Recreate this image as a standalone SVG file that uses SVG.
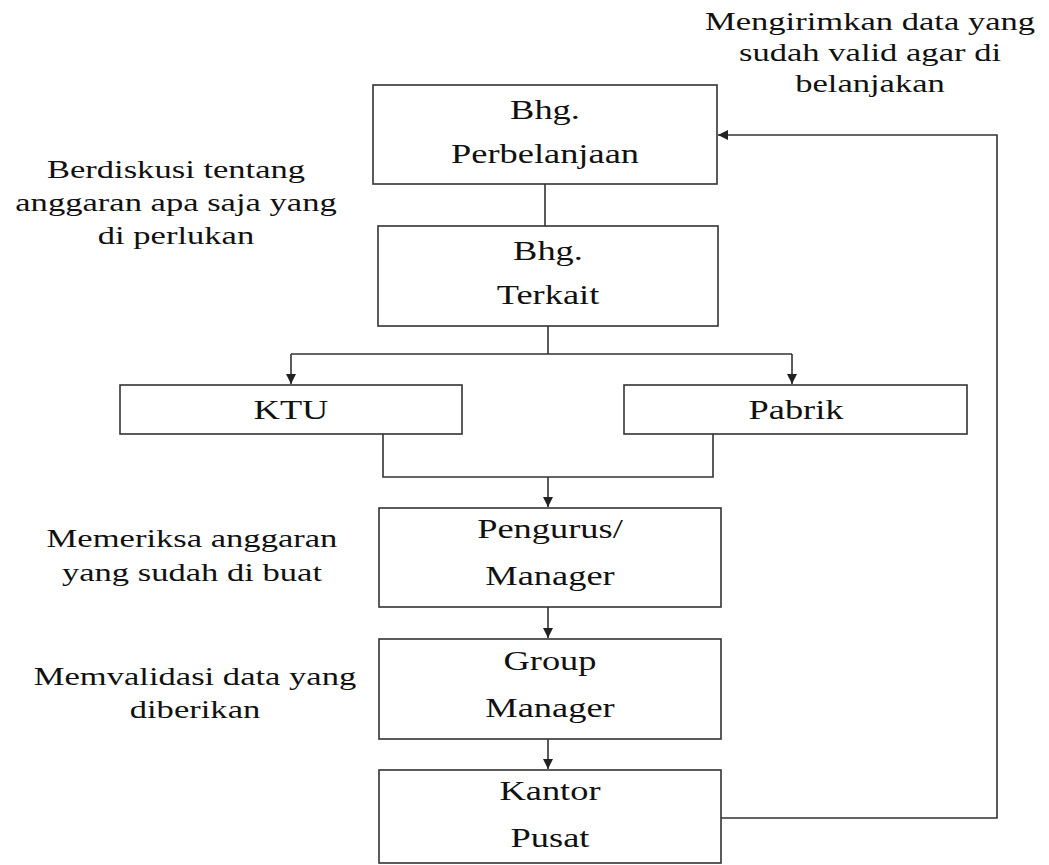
<svg xmlns="http://www.w3.org/2000/svg" width="1049" height="865" viewBox="0 0 1049 865">
<defs>
<marker id="ah" viewBox="0 0 10 10" refX="10" refY="5" markerWidth="10" markerHeight="10" markerUnits="userSpaceOnUse" orient="auto">
<path d="M0,0 L10,5 L0,10 z" fill="#222"/>
</marker>
<style>
.box{fill:#fff;stroke:#333;stroke-width:1.6}
.ln{fill:none;stroke:#333;stroke-width:1.6}
.t{font-family:"Liberation Serif","Times New Roman",serif;font-size:28px;fill:#111;text-anchor:middle}
.l{font-family:"Liberation Serif","Times New Roman",serif;font-size:26px;fill:#111;text-anchor:middle}
</style>
</defs>
<rect width="1049" height="865" fill="#fff"/>
<g id="connectors">
<path class="ln" d="M545,184 V226"/>
<path class="ln" d="M548,326 V354 M291,354 H792"/>
<path class="ln" d="M291,354 V384" marker-end="url(#ah)"/>
<path class="ln" d="M792,354 V384" marker-end="url(#ah)"/>
<path class="ln" d="M383,434 V477 H713 V434"/>
<path class="ln" d="M548,477 V507" marker-end="url(#ah)"/>
<path class="ln" d="M548,607 V638" marker-end="url(#ah)"/>
<path class="ln" d="M548,739 V769" marker-end="url(#ah)"/>
<path class="ln" d="M721,818 H997 V135 H718" marker-end="url(#ah)"/>
</g>
<g id="n1"><rect class="box" x="373" y="85" width="344" height="99"/>
<text class="t" transform="translate(545,119) scale(1.3,1)">Bhg.</text>
<text class="t" transform="translate(545,163) scale(1.3,1)">Perbelanjaan</text></g>
<g id="n2"><rect class="box" x="378" y="226" width="340" height="100"/>
<text class="t" transform="translate(548,260) scale(1.3,1)">Bhg.</text>
<text class="t" transform="translate(548,304) scale(1.3,1)">Terkait</text></g>
<g id="n3"><rect class="box" x="120" y="385" width="342" height="49"/>
<text class="t" transform="translate(291,419) scale(1.3,1)">KTU</text></g>
<g id="n4"><rect class="box" x="624" y="385" width="343" height="49"/>
<text class="t" transform="translate(796,419) scale(1.3,1)">Pabrik</text></g>
<g id="n5"><rect class="box" x="379" y="508" width="342" height="99"/>
<text class="t" transform="translate(550,538) scale(1.3,1)">Pengurus/</text>
<text class="t" transform="translate(550,585) scale(1.3,1)">Manager</text></g>
<g id="n6"><rect class="box" x="379" y="639" width="342" height="100"/>
<text class="t" transform="translate(550,670) scale(1.3,1)">Group</text>
<text class="t" transform="translate(550,717) scale(1.3,1)">Manager</text></g>
<g id="n7"><rect class="box" x="379" y="770" width="342" height="93"/>
<text class="t" transform="translate(550,800) scale(1.3,1)">Kantor</text>
<text class="t" transform="translate(550,847) scale(1.3,1)">Pusat</text></g>
<g id="labels">
<text class="l" transform="translate(870,30) scale(1.33,1)">Mengirimkan data yang</text>
<text class="l" transform="translate(870,61) scale(1.33,1)">sudah valid agar di</text>
<text class="l" transform="translate(870,92) scale(1.33,1)">belanjakan</text>
<text class="l" transform="translate(176,178) scale(1.33,1)">Berdiskusi tentang</text>
<text class="l" transform="translate(176,211) scale(1.33,1)">anggaran apa saja yang</text>
<text class="l" transform="translate(176,244) scale(1.33,1)">di perlukan</text>
<text class="l" transform="translate(192,547) scale(1.33,1)">Memeriksa anggaran</text>
<text class="l" transform="translate(192,581) scale(1.33,1)">yang sudah di buat</text>
<text class="l" transform="translate(195,685) scale(1.33,1)">Memvalidasi data yang</text>
<text class="l" transform="translate(195,718) scale(1.33,1)">diberikan</text>
</g>
</svg>
